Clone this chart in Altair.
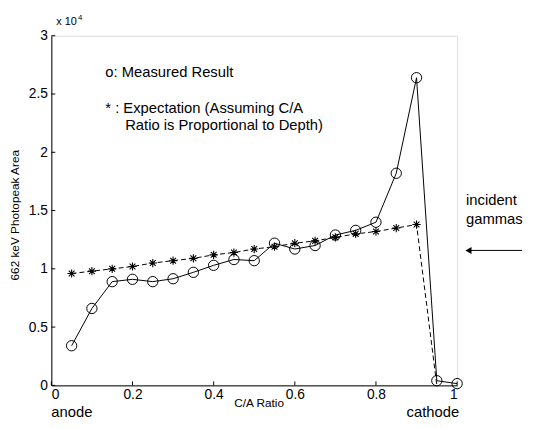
import altair as alt
import pandas as pd

# Data (C/A ratio vs 662 keV photopeak area)
ca_measured = [0.05, 0.10, 0.15, 0.20, 0.25, 0.30, 0.35, 0.40, 0.45, 0.50,
               0.55, 0.60, 0.65, 0.70, 0.75, 0.80, 0.85, 0.90, 0.95, 1.00]
measured = [3400, 6600, 8900, 9100, 8900, 9150, 9700, 10300, 10800, 10700,
            12200, 11700, 12000, 12900, 13300, 14000, 18200, 26400, 400, 150]

ca_expect = [0.05, 0.10, 0.15, 0.20, 0.25, 0.30, 0.35, 0.40, 0.45, 0.50,
             0.55, 0.60, 0.65, 0.70, 0.75, 0.80, 0.85, 0.90, 0.95]
expect = [9600, 9800, 10000, 10200, 10500, 10700, 10900, 11200, 11400, 11700,
          11900, 12200, 12400, 12700, 13000, 13200, 13500, 13800, 0]
expect_marker = [True] * 18 + [False]

x_ticks = [0, 0.2, 0.4, 0.6, 0.8, 1.0]
y_ticks = [0, 5000, 10000, 15000, 20000, 25000, 30000]

FONT = "Liberation Sans"
W, H = 412, 355

df_m = pd.DataFrame({"ca": ca_measured, "area": measured})
df_e = pd.DataFrame({"ca": ca_expect, "area": expect, "mk": expect_marker})

xs = alt.Scale(domain=[0, 1], nice=False, zero=False)
ys = alt.Scale(domain=[0, 30000], nice=False)

xaxis = alt.Axis(values=x_ticks, ticks=False, grid=False, labelFont=FONT, labelFontSize=14,
                 labelColor="black", domainColor="black", labelPadding=2,
                 labelExpr="datum.value == 1 ? '1' : datum.value == 0 ? '0' : format(datum.value, '.1f')",
                 title=None)
yaxis = alt.Axis(values=y_ticks, ticks=False, grid=False, labelFont=FONT, labelFontSize=14,
                 labelColor="black", domainColor="black", labelPadding=4,
                 labelExpr="format(datum.value / 10000, '')", title=None)

base_x = alt.X("ca:Q", scale=xs, axis=xaxis)
base_y = alt.Y("area:Q", scale=ys, axis=yaxis)

line_m = alt.Chart(df_m).mark_line(color="black", strokeWidth=1).encode(x=base_x, y=base_y)
pts_m = alt.Chart(df_m).mark_point(shape="circle", size=110, filled=False, color="black",
                                   strokeWidth=1, opacity=1).encode(
    x=alt.X("ca:Q", scale=xs), y=alt.Y("area:Q", scale=ys))

line_e = alt.Chart(df_e).mark_line(color="black", strokeWidth=1, strokeDash=[5, 3]).encode(
    x=alt.X("ca:Q", scale=xs), y=alt.Y("area:Q", scale=ys))
star = "M-1,0L1,0M0,-1L0,1M-0.7,-0.7L0.7,0.7M-0.7,0.7L0.7,-0.7"
pts_e = alt.Chart(df_e).transform_filter("datum.mk").mark_point(
    shape=star, size=70, filled=False, color="black", strokeWidth=1.1, opacity=1).encode(
    x=alt.X("ca:Q", scale=xs), y=alt.Y("area:Q", scale=ys))

# inward ticks
tx = pd.DataFrame({"v": x_ticks})
ty = pd.DataFrame({"v": y_ticks})
ticks_x = alt.Chart(tx).mark_rule(color="black", strokeWidth=1).encode(
    x=alt.X("v:Q", scale=xs), y=alt.value(H), y2=alt.value(H - 4))
ticks_y = alt.Chart(ty).mark_rule(color="black", strokeWidth=1).encode(
    y=alt.Y("v:Q", scale=ys), x=alt.value(0), x2=alt.value(4))

# annotations
ann = pd.DataFrame({
    "x": [0.133, 0.133, 0.182, 1.022, 1.022, 0.0, 1.005, 0.512, 0.012],
    "y": [26870, 23830, 22310, 15890, 14280, -2700, -2700, -1500, 31150],
    "t": ["o: Measured Result", "* : Expectation (Assuming C/A",
          "Ratio is Proportional to Depth)", "incident", "gammas",
          "anode", "cathode", "C/A Ratio", "x 10"],
    "a": ["left", "left", "left", "left", "left", "left", "right", "center", "left"],
    "b": ["middle", "middle", "middle", "middle", "middle", "alphabetic", "alphabetic",
          "middle", "middle"],
    "s": [15, 15, 15, 15, 15, 15, 15, 12, 11],
})
texts = []
for _, r in ann.iterrows():
    texts.append(alt.Chart(pd.DataFrame([r])).mark_text(
        align=r["a"], baseline=r["b"], font=FONT, fontSize=int(r["s"]), color="black").encode(
        x=alt.X("x:Q", scale=xs), y=alt.Y("y:Q", scale=ys), text="t:N"))

sup = alt.Chart(pd.DataFrame({"x": [0.066], "y": [31500], "t": ["4"]})).mark_text(
    align="left", baseline="middle", font=FONT, fontSize=8, color="black").encode(
    x=alt.X("x:Q", scale=xs), y=alt.Y("y:Q", scale=ys), text="t:N")

ytitle = alt.Chart(pd.DataFrame({"x": [-0.09], "y": [14600], "t": ["662 keV Photopeak Area"]})).mark_text(
    align="center", baseline="middle", font=FONT, fontSize=12, angle=270, color="black").encode(
    x=alt.X("x:Q", scale=xs), y=alt.Y("y:Q", scale=ys), text="t:N")

arrow_df = pd.DataFrame({"x": [1.03], "x2": [1.16], "y": [11580]})
arrow_line = alt.Chart(arrow_df).mark_rule(color="black", strokeWidth=1).encode(
    x=alt.X("x:Q", scale=xs), x2="x2:Q", y=alt.Y("y:Q", scale=ys))
arrow_head = alt.Chart(pd.DataFrame({"x": [1.028], "y": [11580]})).mark_point(
    shape="triangle-left", size=50, filled=True, color="black", opacity=1).encode(
    x=alt.X("x:Q", scale=xs), y=alt.Y("y:Q", scale=ys))

chart = alt.layer(line_m, line_e, pts_m, pts_e, ticks_x, ticks_y, ytitle, sup,
                  arrow_line, arrow_head, *texts).properties(
    width=W, height=H,
    autosize=alt.AutoSizeParams(type="none"),
    padding={"left": 44, "top": 25, "right": 74, "bottom": 33},
).configure_view(stroke=None).configure(background="white")

chart.save("out.html", embed_options={"renderer": "svg", "actions": False})
